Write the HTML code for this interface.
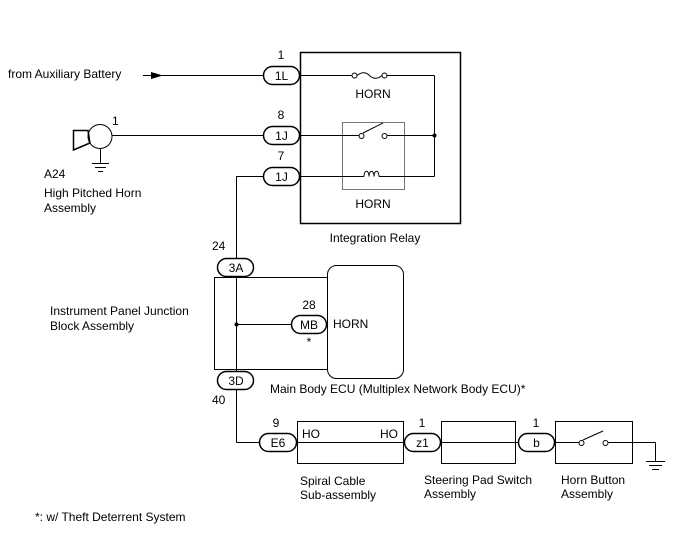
<!DOCTYPE html>
<html><head><meta charset="utf-8"><style>
html,body{margin:0;padding:0;background:#fff;}
svg{display:block;}
text{font-family:"Liberation Sans",sans-serif;font-size:12px;fill:#000;}
</style></head><body>
<svg width="688" height="560" viewBox="0 0 688 560" xmlns="http://www.w3.org/2000/svg">
<g fill="none" stroke="#000" stroke-width="1">
<rect x="300.5" y="52.5" width="160" height="171" stroke-width="1.5"/>
<rect x="342.5" y="122.5" width="62" height="67" stroke="#777"/>
<line x1="143" y1="75.5" x2="264" y2="75.5"/>
<line x1="299" y1="75.5" x2="352" y2="75.5"/>
<circle cx="354.5" cy="75.5" r="2.5"/>
<path d="M357,75.5 Q364,70 369.5,75.5 Q375,81 382,75.5"/>
<circle cx="384.5" cy="75.5" r="2.5"/>
<line x1="387" y1="75.5" x2="434.5" y2="75.5"/>
<line x1="434.5" y1="75.5" x2="434.5" y2="176.5"/>
<line x1="112" y1="135.5" x2="264" y2="135.5"/>
<line x1="299" y1="135.5" x2="359" y2="135.5"/>
<circle cx="361.5" cy="136" r="2.5"/>
<line x1="363" y1="133" x2="383" y2="123"/>
<circle cx="384.5" cy="136" r="2.5"/>
<line x1="387" y1="135.5" x2="434.5" y2="135.5"/>
<line x1="236.5" y1="176.5" x2="264" y2="176.5"/>
<line x1="299" y1="176.5" x2="364" y2="176.5"/>
<path d="M364,176.5 c0,-7 5,-7 5,0 c0,-7 5,-7 5,0 c0,-7 5,-7 5,0"/>
<line x1="379" y1="176.5" x2="434.5" y2="176.5"/>
<circle cx="100" cy="136.5" r="12"/>
<polygon points="73.5,130.5 88,130.5 90,143 73.5,150" stroke-width="1.5"/>
<line x1="100.5" y1="148.5" x2="100.5" y2="163"/>
<line x1="92" y1="163.5" x2="109" y2="163.5"/>
<line x1="95" y1="167.5" x2="106" y2="167.5"/>
<line x1="98" y1="171.5" x2="103" y2="171.5"/>
<line x1="236.5" y1="176" x2="236.5" y2="259"/>
<line x1="236.5" y1="276" x2="236.5" y2="372"/>
<line x1="236.5" y1="389" x2="236.5" y2="442.5"/>
<line x1="236.5" y1="442.5" x2="260" y2="442.5"/>
<rect x="214.5" y="277.5" width="113" height="92"/>
<rect x="327.5" y="265.5" width="76" height="113" rx="9" fill="#fff"/>
<line x1="236.5" y1="324.5" x2="292" y2="324.5"/>
<rect x="297.5" y="421.5" width="106" height="42"/>
<rect x="441.5" y="421.5" width="74" height="42"/>
<rect x="555.5" y="421.5" width="77" height="42"/>
<line x1="297" y1="442.5" x2="404" y2="442.5"/>
<line x1="440" y1="442.5" x2="518" y2="442.5"/>
<line x1="554" y1="442.5" x2="579" y2="442.5"/>
<circle cx="581.5" cy="443" r="2.5"/>
<line x1="583" y1="440" x2="603" y2="431"/>
<circle cx="605.5" cy="443" r="2.5"/>
<line x1="608" y1="442.5" x2="655.5" y2="442.5"/>
<line x1="655.5" y1="442.5" x2="655.5" y2="461"/>
<line x1="646" y1="461.5" x2="665" y2="461.5"/>
<line x1="649" y1="465.5" x2="662" y2="465.5"/>
<line x1="652" y1="469.5" x2="659" y2="469.5"/>
</g>
<polygon points="151,72 163,75.5 151,79" fill="#000"/>
<circle cx="434.5" cy="135.5" r="2" fill="#000"/>
<circle cx="236.5" cy="324.5" r="2" fill="#000"/>
<g fill="#fff" stroke="#000" stroke-width="1.5">
<rect x="263.5" y="66.5" width="36" height="18" rx="9"/>
<rect x="263.5" y="126.5" width="36" height="18" rx="9"/>
<rect x="263.5" y="167.5" width="36" height="18" rx="9"/>
<rect x="217.5" y="258.5" width="36" height="18" rx="9"/>
<rect x="217.5" y="371.5" width="36" height="18" rx="9"/>
<rect x="291.5" y="315.5" width="35" height="18" rx="9"/>
<rect x="259.5" y="433.5" width="37" height="18" rx="9"/>
<rect x="404.5" y="433.5" width="36" height="18" rx="9"/>
<rect x="518.5" y="433.5" width="36" height="18" rx="9"/>
</g>
<g text-anchor="middle">
<text x="281.5" y="80">1L</text>
<text x="281.5" y="140">1J</text>
<text x="281.5" y="181">1J</text>
<text x="236" y="272">3A</text>
<text x="236" y="385">3D</text>
<text x="309" y="329">MB</text>
<text x="278" y="447">E6</text>
<text x="422.5" y="447">z1</text>
<text x="536.5" y="447">b</text>
<text x="281" y="59">1</text>
<text x="281" y="119">8</text>
<text x="281" y="160">7</text>
<text x="309" y="309">28</text>
<text x="309" y="346" font-size="9">*</text>
<text x="276" y="427">9</text>
<text x="422" y="427">1</text>
<text x="536" y="427">1</text>
<text x="373" y="98">HORN</text>
<text x="373" y="208">HORN</text>
<text x="375" y="242">Integration Relay</text>
</g>
<text x="8" y="78">from Auxiliary Battery</text>
<text x="112" y="125">1</text>
<text x="44" y="178">A24</text>
<text x="44" y="197">High Pitched Horn</text>
<text x="44" y="212">Assembly</text>
<text x="212" y="250">24</text>
<text x="50" y="315">Instrument Panel Junction</text>
<text x="50" y="330">Block Assembly</text>
<text x="333" y="328">HORN</text>
<text x="270" y="393">Main Body ECU (Multiplex Network Body ECU)*</text>
<text x="212" y="404">40</text>
<text x="302" y="438">HO</text>
<text x="380" y="438">HO</text>
<text x="300" y="485">Spiral Cable</text>
<text x="300" y="499">Sub-assembly</text>
<text x="424" y="484">Steering Pad Switch</text>
<text x="424" y="498">Assembly</text>
<text x="561" y="484">Horn Button</text>
<text x="561" y="498">Assembly</text>
<text x="35" y="521">*: w/ Theft Deterrent System</text>
</svg>
</body></html>
